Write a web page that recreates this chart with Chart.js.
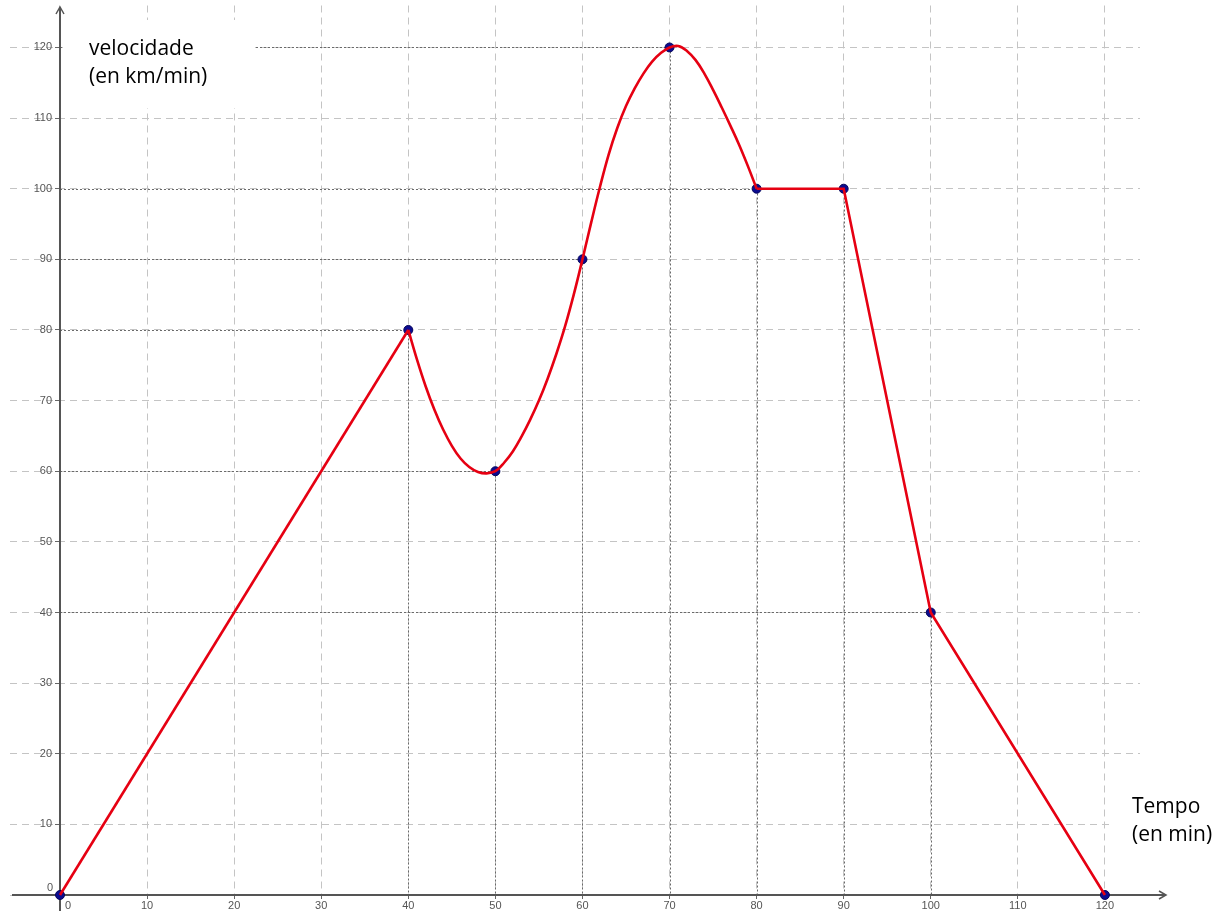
<!DOCTYPE html>
<html>
<head>
<meta charset="utf-8">
<script src="https://cdn.jsdelivr.net/npm/chart.js@4.4.0/dist/chart.umd.min.js"></script>
<style>
  html, body { margin: 0; padding: 0; background: #ffffff; }
</style>
</head>
<body>
<canvas id="myChart" width="1224" height="912"></canvas>
<script>
// ticks
const xTicks = [0, 10, 20, 30, 40, 50, 60, 70, 80, 90, 100, 110, 120];
const yTicks = [0, 10, 20, 30, 40, 50, 60, 70, 80, 90, 100, 110, 120];

// tramo recto inicial
const upTimes = [0, 40];
const upSpeeds = [0, 80];

// tramo curvo
const curveTimes = [40, 41, 42, 43, 44, 45, 46, 47, 48, 49, 50,
    51, 52, 53, 54, 55, 56, 57, 58, 59, 60,
    61, 62, 63, 64, 65, 66, 67, 68, 69, 70,
    71, 72, 73, 74, 75, 76, 77, 78, 79, 80];
const curveSpeeds = [80, 75.8, 72, 68.7, 65.9, 63.6, 61.8, 60.6, 59.9, 59.7, 60,
    61.2, 62.8, 64.9, 67.3, 70, 73.1, 76.6, 80.5, 85, 90,
    95.2, 100.2, 104.8, 108.6, 111.7, 114.2, 116.3, 118, 119.2, 120,
    120.2, 119.5, 118.2, 116.3, 114, 111.5, 108.9, 106.2, 103.2, 100];

// tramo final
const downTimes = [80, 90, 100, 120];
const downSpeeds = [100, 100, 40, 0];

// puntos marcados
const markTimes = [0, 40, 50, 60, 70, 80, 90, 100, 120];
const markSpeeds = [0, 80, 60, 90, 120, 100, 100, 40, 0];

// puntos con líneas punteadas hacia los ejes
const guideTimes = [40, 50, 60, 70, 80, 90, 100];
const guideSpeeds = [80, 60, 90, 120, 100, 100, 40];

const pts = (xs, ys) => xs.map((v, i) => ({x: v, y: ys[i]}));

const RED = "#e60012";

const decor = {
    id: "decor",
    beforeDatasetsDraw(chart) {
        const ctx = chart.ctx;
        const x = chart.scales.x, y = chart.scales.y;
        const x0 = x.getPixelForValue(0);
        const y0 = y.getPixelForValue(0);
        ctx.save();

        // líneas punteadas
        ctx.strokeStyle = "#6a6a6a";
        ctx.lineWidth = 1;
        ctx.setLineDash([2, 2]);
        guideTimes.forEach((t, i) => {
            const px = Math.round(x.getPixelForValue(t)) + 0.5;
            const py = Math.round(y.getPixelForValue(guideSpeeds[i])) + 0.5;
            ctx.beginPath();
            ctx.moveTo(x0, py);
            ctx.lineTo(px, py);
            ctx.moveTo(px, py);
            ctx.lineTo(px, y0);
            ctx.stroke();
        });
        ctx.setLineDash([]);

        // fondos blancos de los títulos
        ctx.fillStyle = "#ffffff";
        ctx.fillRect(63, 20, 192, 88);
        ctx.fillRect(1110, 788, 114, 64);

        // ejes
        ctx.strokeStyle = "#555555";
        ctx.lineWidth = 2;
        ctx.beginPath();
        ctx.moveTo(12, y0);
        ctx.lineTo(1165, y0);
        ctx.moveTo(x0, 911);
        ctx.lineTo(x0, 8);
        ctx.stroke();
        ctx.lineWidth = 1.5;
        ctx.beginPath();
        ctx.moveTo(1159, y0 - 4);
        ctx.lineTo(1166, y0);
        ctx.lineTo(1159, y0 + 4);
        ctx.moveTo(x0 - 4, 14);
        ctx.lineTo(x0, 7);
        ctx.lineTo(x0 + 4, 14);
        ctx.stroke();

        // etiquetas de los ticks
        ctx.fillStyle = "#555555";
        ctx.font = '11px "Liberation Sans"';
        ctx.textAlign = "right";
        ctx.textBaseline = "middle";
        yTicks.forEach(v => {
            if (v === 0) {
                ctx.fillText("0", x0 - 7, y0 - 7);
            } else {
                ctx.fillText(String(v), x0 - 8, y.getPixelForValue(v));
            }
        });
        ctx.textAlign = "center";
        xTicks.forEach(v => {
            const px = v === 0 ? x0 + 8 : x.getPixelForValue(v);
            ctx.fillText(String(v), px, y0 + 11);
        });

        // títulos de los ejes
        ctx.fillStyle = "#000000";
        ctx.font = '21px "Open Sans"';
        ctx.textAlign = "left";
        ctx.textBaseline = "alphabetic";
        ctx.fillText("velocidade", 89, 55);
        ctx.fillText("(en km/min)", 89, 83);
        ctx.fillText("Tempo", 1132, 813);
        ctx.fillText("(en min)", 1132, 841);
        ctx.restore();
    }
};

const lineStyle = {
    type: "scatter",
    showLine: true,
    borderColor: RED,
    borderWidth: 2.6,
    pointRadius: 0,
    fill: false,
    clip: false,
};

const data = {
    datasets: [
        Object.assign({}, lineStyle, {label: "subida", data: pts(upTimes, upSpeeds)}),
        Object.assign({}, lineStyle, {label: "curva", data: pts(curveTimes, curveSpeeds), tension: 0.4}),
        Object.assign({}, lineStyle, {label: "bajada", data: pts(downTimes, downSpeeds)}),
        {
            type: "scatter",
            label: "puntos",
            data: pts(markTimes, markSpeeds),
            showLine: false,
            pointRadius: 4.5,
            backgroundColor: "#0b0b8f",
            borderColor: "#05055a",
            borderWidth: 1,
            clip: false,
        },
    ],
};

const config = {
    type: "scatter",
    data: data,
    options: {
        responsive: false,
        animation: false,
        layout: {padding: {left: 10, right: 84, top: 4, bottom: 17}},
        plugins: {legend: {display: false}, tooltip: {enabled: false}},
        scales: {
            x: {
                type: "linear",
                position: {y: 0},
                min: -5.742,
                max: 124.03,
                afterBuildTicks: s => { s.ticks = xTicks.map(v => ({value: v})); },
                ticks: {display: false},
                grid: {color: "#c4c4c4", lineWidth: 1, drawTicks: true, tickLength: 4, tickColor: "#666666"},
                border: {display: false, dash: [7, 5]},
            },
            y: {
                type: "linear",
                position: {x: 0},
                min: 0,
                max: 125.94,
                afterBuildTicks: s => { s.ticks = yTicks.map(v => ({value: v})); },
                ticks: {display: false},
                grid: {color: "#c4c4c4", lineWidth: 1, drawTicks: true, tickLength: 5, tickColor: "#666666"},
                border: {display: false, dash: [7, 5]},
            },
        },
    },
    plugins: [decor],
};

const myChart = new Chart(document.getElementById("myChart").getContext("2d"), config);
</script>
</body>
</html>
